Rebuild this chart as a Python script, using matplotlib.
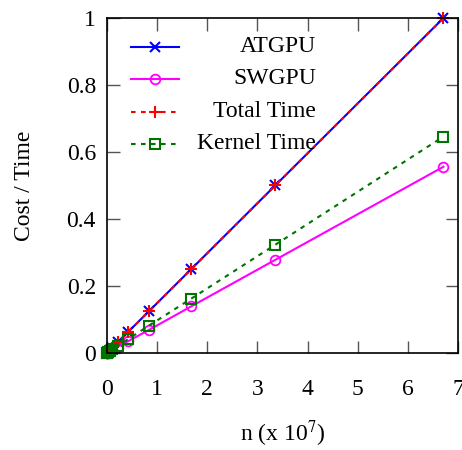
import matplotlib
matplotlib.use('Agg')
import matplotlib.pyplot as plt

plt.rcParams['font.family'] = ['Liberation Serif', 'DejaVu Serif']
plt.rcParams['mathtext.fontset'] = 'stix'
plt.rcParams['font.size'] = 17

# n in units of 10^7 (powers of two)
n = [0.0016, 0.0033, 0.0066, 0.013, 0.026, 0.052, 0.105, 0.210, 0.419, 0.839, 1.678, 3.355, 6.711]
atgpu = [0.0003, 0.0006, 0.0011, 0.0021, 0.004, 0.0079, 0.0157, 0.0313, 0.0625, 0.125, 0.25, 0.5, 1.0]
swgpu = [0.0003, 0.0005, 0.0008, 0.0014, 0.0025, 0.0047, 0.009, 0.018, 0.035, 0.069, 0.139, 0.278, 0.556]
total_time = [0.0003, 0.0006, 0.0011, 0.0021, 0.004, 0.0079, 0.0157, 0.0313, 0.0625, 0.125, 0.25, 0.5, 1.0]
kernel_time = [0.0006, 0.0008, 0.0011, 0.0018, 0.0031, 0.0058, 0.011, 0.021, 0.041, 0.082, 0.162, 0.323, 0.646]
labels = ['ATGPU', 'SWGPU', 'Total Time', 'Kernel Time']

dash = (0, (2.2, 2.6))
styles = [
    dict(color='blue', lw=1.5, marker='x', ms=7, mew=1.5),
    dict(color='magenta', lw=1.5, marker='o', ms=7, mfc='none', mew=1.3),
    dict(color='red', lw=1.5, ls=dash, marker='+', ms=8, mew=1.5),
    dict(color='#007400', lw=1.5, ls=dash, marker='s', ms=7, mfc='none', mew=1.5),
]

fig = plt.figure(figsize=(4.62, 4.5), dpi=100)
ax = fig.add_axes([0.2316, 0.2156, 0.7597, 0.7444])

for ys, st in zip([atgpu, swgpu, total_time, kernel_time], styles):
    ax.plot(n, ys, clip_on=False, **st)

ax.set_xlim(0, 7)
ax.set_ylim(0, 1)
ax.set_xticks(range(8))
ax.set_yticks([0, 0.2, 0.4, 0.6, 0.8, 1])
ax.set_yticklabels(['0', '0.2', '0.4', '0.6', '0.8', '1'])
ax.tick_params(direction='in', length=9, width=1, color='#555555', top=True, right=True)
ax.tick_params(axis='x', pad=19)
ax.tick_params(axis='y', pad=8)
for s in ax.spines.values():
    s.set_linewidth(1.2)

ax.set_xlabel(r'n (x 10$^7$)')
ax.set_ylabel('Cost / Time')
ax.xaxis.set_label_coords(0.5, -0.242)
ax.xaxis.label.set_va('center')
ax.yaxis.set_label_coords(-0.236, 0.5)
ax.yaxis.label.set_va('center')

# gnuplot style key: sample on the left, text right-aligned
key_y = [0.914, 0.818, 0.720, 0.624]
for lab, st, yk in zip(labels, styles, key_y):
    line_st = {k: v for k, v in st.items() if k != 'marker'}
    ax.plot([0.068, 0.205], [yk, yk], transform=ax.transAxes, **line_st)
    ax.plot([0.137], [yk], transform=ax.transAxes, ls='none',
            **{k: v for k, v in st.items() if k not in ('ls', 'lw')})
    ax.text(0.595, yk, lab, transform=ax.transAxes, ha='right', va='center')

fig.savefig('out.png', dpi=100)
